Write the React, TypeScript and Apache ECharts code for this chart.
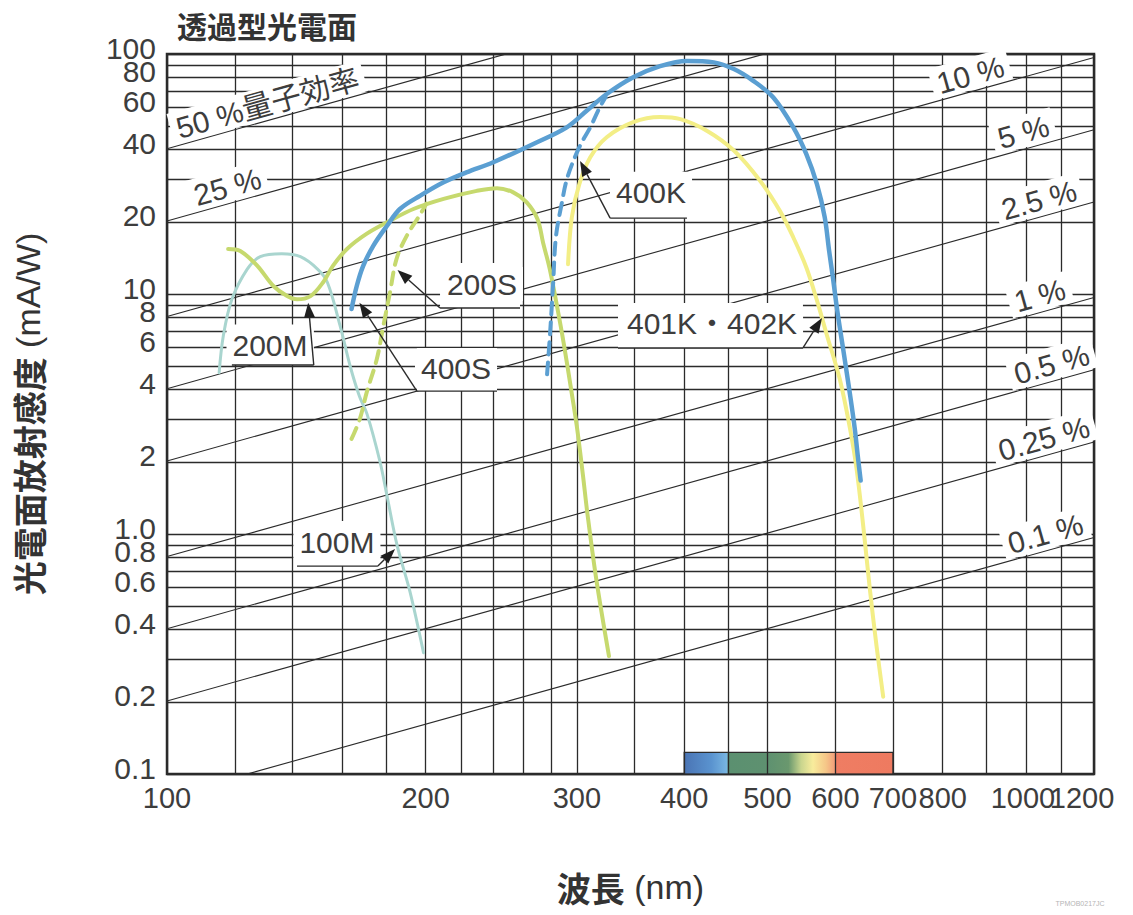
import { useEffect, useRef } from 'react';
import * as echarts from 'echarts';

// Wavelength axis (nm): labelled ticks and grid rulings
const xTickValues = [100, 200, 300, 400, 500, 600, 700, 800, 1000, 1200];
const xGridValues = [100, 120, 140, 160, 180, 200, 220, 240, 260, 280, 300, 350, 400, 450, 500, 600, 700, 800, 900, 1000, 1100, 1200];

// Sensitivity axis (mA/W): labelled ticks and grid rulings
const yTickValues = [0.1, 0.2, 0.4, 0.6, 0.8, 1, 2, 4, 6, 8, 10, 20, 40, 60, 80, 100];
const yTickLabels = ['0.1', '0.2', '0.4', '0.6', '0.8', '1.0', '2', '4', '6', '8', '10', '20', '40', '60', '80', '100'];
const yGridValues = [0.1, 0.2, 0.3, 0.4, 0.5, 0.6, 0.7, 0.8, 0.9, 1, 2, 3, 4, 5, 6, 7, 8, 9, 10, 20, 30, 40, 50, 60, 70, 80, 90, 100];

// Quantum-efficiency reference lines (%), S[mA/W] = QE[%] * λ[nm] / 124
const qeLevels = [50, 25, 10, 5, 2.5, 1, 0.5, 0.25, 0.1];
const qeLabels = ['50 %量子効率', '25 %', '10 %', '5 %', '2.5 %', '1 %', '0.5 %', '0.25 %', '0.1 %'];
const qeLabelWavelength = [132.5, 119, 872, 1005, 1048, 1050, 1084, 1062, 1066];

// Photocathode radiant sensitivity curves [wavelength nm, mA/W]
const curve100M = [
  [115, 4.7], [116.3, 6.7], [119, 9.5], [124, 12.7], [128.4, 14.3], [136, 14.7], [143, 14.3],
  [149.7, 12.7], [153.7, 11.2], [159, 7.4], [163.4, 5.0], [167.5, 3.75], [171, 3.15], [177, 2.0],
  [180.3, 1.45], [185.4, 0.89], [191.8, 0.575], [198.9, 0.32],
];
const curve200M = [
  [117.8, 15.4], [121.7, 15.1], [127.4, 13.1], [133, 10.8], [138, 9.8], [141.7, 9.5], [146.9, 9.8],
  [152, 11.2], [156, 13.1], [162, 15.4], [170.7, 17.8], [181.8, 20.2], [193.6, 22.6], [209.9, 24.9],
  [229.4, 26.9], [242.2, 27.6], [253, 26.5], [262.3, 24.1], [270, 20.5], [274, 16.4], [279, 12.7],
  [284.4, 8.94], [289.5, 6.29], [295, 4.14], [299.9, 2.83], [305, 1.75], [308.5, 1.23], [316, 0.65],
  [327, 0.31],
];
const curve200S = [
  [164, 2.49], [167.7, 3.02], [170.8, 3.89], [175.5, 5.36], [178.6, 7.38], [181.8, 10.16],
  [185, 13.98], [190.2, 17.5], [197.2, 21.5], [200.5, 23.8],
];
const curve400S = [
  [164, 8.66], [166.3, 10.8], [169.2, 13.1], [173.9, 15.9], [180.3, 19.2], [186.7, 22.6], [197.2, 25.7],
  [209.9, 29.2], [223.1, 32.1], [239.8, 35.4], [267, 42.2], [292, 49.5], [308, 58], [325, 68.1],
  [349, 80], [375, 89], [403, 93.6], [433, 92.3], [457, 86.6], [481, 77.5], [508, 65.9], [536, 49.5],
  [555, 38.3], [571, 28.7], [583, 20.9], [590, 15.1], [596, 11.7], [603, 8.52], [613, 5.8], [624, 3.8],
  [632, 2.74], [637, 2.12], [642, 1.67],
];
const curve400K = [
  [277, 4.63], [279.2, 6.81], [281.5, 11.0], [283.6, 17.2], [288, 23.7], [292.6, 30.7], [302, 40.9],
  [311, 49.5], [319, 59.9], [324, 66],
];
const curve401K = [
  [293, 13.3], [296, 20.9], [302, 28.7], [311, 37.1], [325, 45], [349, 52], [375, 54.6], [396, 53.5],
  [425, 47.9], [457, 39.6], [490, 29.7], [517, 22.2], [536, 17.2], [555, 12.9], [571, 9.4], [586, 6.8],
  [607, 4.42], [624, 2.74], [635, 1.87], [647, 1.05], [658, 0.59], [670, 0.34], [682, 0.21],
];

// Visible-spectrum strip along the bottom (nm, mA/W)
const spectrumBand = [[400, 0.1], [700, 0.123]];

// Curve call-outs: label anchor, underline (x range at one y), arrow tip — all in data units
const callouts = [
  { text: '200M', at: [131.8, 6.1], lineX: [119, 148.2], lineY: 5.06, from: 1, tip: [146, 9.2] },
  { text: '200S', at: [232.6, 11.0], lineX: [207.9, 257.6], lineY: 8.74, from: 0, tip: [185.5, 12.6] },
  { text: '400S', at: [217, 4.87], lineX: [195.4, 242.2], lineY: 3.94, from: 0, tip: [167.5, 9.2] },
  { text: '400K', at: [366, 26.4], lineX: [328, 403], lineY: 20.7, from: 0, tip: [302.6, 35.8] },
  { text: '401K・402K', at: [431, 7.5], lineX: [335, 550], lineY: 5.96, from: 1, tip: [578.8, 7.94] },
  { text: '100M', at: [157.7, 0.926], lineX: [141.7, 176], lineY: 0.735, from: 1, tip: [184.3, 0.866] },
];

const INK = '#2b2b2b';
const TEXT = '#3d3d3d';
const LATIN = '"Liberation Sans", Arial, "Noto Sans CJK JP", sans-serif';
const CJK = '"Noto Sans CJK JP", "Liberation Sans", sans-serif';

function curveSeries(name: string, data: number[][], color: string, width: number, z: number, dashed = false) {
  return {
    name,
    type: 'line',
    data,
    z,
    xAxisIndex: 0,
    yAxisIndex: 0,
    smooth: 0.35,
    symbol: 'none',
    silent: true,
    clip: true,
    lineStyle: { color, width, type: dashed ? [12, 8] : 'solid', cap: 'round', join: 'round' },
  };
}

function yLabelText(v: number) {
  let best = 0;
  yTickValues.forEach((t, i) => {
    if (Math.abs(Math.log10(t) - Math.log10(v)) < Math.abs(Math.log10(yTickValues[best]) - Math.log10(v))) best = i;
  });
  return yTickLabels[best];
}

// The two right-most wavelength labels are pulled slightly left (via right padding)
function xLabelText(v: number) {
  const n = Math.round(v);
  if (n === 1200) return '{far|1200}';
  if (n === 1000) return '{near|1000}';
  return String(n);
}

// Tightly packed tick labels are split over two coincident axes (alternate ticks),
// so that no label is dropped by the end-label overlap handling.
function makeXAxis(values: number[], withName: boolean) {
  return {
    type: 'log',
    logBase: 10,
    min: 100,
    max: 1200,
    gridIndex: 0,
    position: 'bottom',
    offset: 0,
    axisLine: { show: false },
    axisTick: { show: false },
    splitLine: { show: false },
    minorTick: { show: false },
    minorSplitLine: { show: false },
    axisLabel: {
      customValues: values,
      formatter: xLabelText,
      fontSize: 29,
      fontFamily: LATIN,
      color: TEXT,
      margin: 9,
      hideOverlap: false,
      showMinLabel: true,
      showMaxLabel: true,
      rich: {
        far: { fontSize: 29, fontFamily: LATIN, color: TEXT, padding: [0, 24, 0, 0] },
        near: { fontSize: 29, fontFamily: LATIN, color: TEXT, padding: [0, 6, 0, 0] },
      },
    },
    name: withName ? '{b|波長} (nm)' : '',
    nameLocation: 'middle',
    nameGap: 96,
    nameTextStyle: {
      fontSize: 34,
      fontFamily: LATIN,
      color: '#333333',
      rich: { b: { fontSize: 34, fontWeight: 'bold', fontFamily: CJK, color: '#333333' } },
    },
  };
}

function makeYAxis(values: number[], withName: boolean) {
  return {
    type: 'log',
    logBase: 10,
    min: 0.1,
    max: 100,
    gridIndex: 0,
    position: 'left',
    offset: 0,
    axisLine: { show: false },
    axisTick: { show: false },
    splitLine: { show: false },
    minorTick: { show: false },
    minorSplitLine: { show: false },
    axisLabel: {
      customValues: values,
      formatter: yLabelText,
      fontSize: 30,
      lineHeight: 12,
      verticalAlign: 'bottom',
      fontFamily: LATIN,
      color: TEXT,
      margin: 11,
      hideOverlap: false,
      showMinLabel: true,
      showMaxLabel: true,
    },
    name: withName ? '{b|光電面放射感度} (mA/W)' : '',
    nameLocation: 'middle',
    nameRotate: 90,
    nameGap: 122,
    nameTextStyle: {
      fontSize: 34,
      fontFamily: LATIN,
      color: '#333333',
      rich: { b: { fontSize: 34, fontWeight: 'bold', fontFamily: CJK, color: '#333333' } },
    },
  };
}

function buildGraphics(chart: echarts.ECharts) {
  const toPx = (p: number[]) => chart.convertToPixel({ xAxisIndex: 0, yAxisIndex: 0 }, p) as number[];
  const els: any[] = [];

  // Quantum-efficiency labels sitting on their diagonal lines
  qeLevels.forEach((q, i) => {
    const lam = qeLabelWavelength[i];
    const a = toPx([lam, (q * lam) / 124]);
    const b = toPx([lam * 1.3, (q * lam * 1.3) / 124]);
    const ang = Math.atan2(a[1] - b[1], b[0] - a[0]);
    const k = 1.5;
    els.push({
      type: 'text',
      z: 40,
      x: a[0] - k * Math.sin(ang),
      y: a[1] - k * Math.cos(ang),
      rotation: ang,
      style: {
        text: qeLabels[i],
        align: 'center',
        verticalAlign: 'bottom',
        fontSize: 30,
        fontFamily: LATIN,
        fill: TEXT,
        backgroundColor: '#ffffff',
        padding: [2, 6, 0, 6],
      },
    });
  });

  // Curve call-outs with underline and arrow
  callouts.forEach((c) => {
    const t = toPx(c.at);
    const u1 = toPx([c.lineX[0], c.lineY]);
    const u2 = toPx([c.lineX[1], c.lineY]);
    const s = c.from === 0 ? u1 : u2;
    const tip = toPx(c.tip);
    const top = t[1] - 21;
    els.push({
      type: 'rect',
      z: 41,
      shape: { x: u1[0], y: top, width: u2[0] - u1[0], height: u1[1] - top },
      style: { fill: '#ffffff' },
    });
    els.push({
      type: 'text',
      z: 42,
      x: t[0],
      y: t[1],
      style: {
        text: c.text,
        align: 'center',
        verticalAlign: 'middle',
        fontSize: 30,
        fontFamily: LATIN,
        fill: TEXT,
        backgroundColor: '#ffffff',
        padding: [2, 6, 2, 6],
      },
    });
    els.push({
      type: 'line',
      z: 43,
      shape: { x1: u1[0], y1: u1[1], x2: u2[0], y2: u2[1] },
      style: { stroke: INK, lineWidth: 1.4 },
    });
    const dx = tip[0] - s[0];
    const dy = tip[1] - s[1];
    const len = Math.hypot(dx, dy) || 1;
    const ux = dx / len;
    const uy = dy / len;
    const hl = 15;
    const hw = 5.5;
    const bx = tip[0] - ux * hl;
    const by = tip[1] - uy * hl;
    els.push({
      type: 'line',
      z: 43,
      shape: { x1: s[0], y1: s[1], x2: bx, y2: by },
      style: { stroke: INK, lineWidth: 1.4 },
    });
    els.push({
      type: 'polygon',
      z: 44,
      shape: {
        points: [
          [tip[0], tip[1]],
          [bx - uy * hw, by + ux * hw],
          [bx + uy * hw, by - ux * hw],
        ],
      },
      style: { fill: '#1f1f1f' },
    });
  });

  // Drawing reference code, bottom right
  els.push({
    type: 'text',
    z: 40,
    x: 1080,
    y: 903,
    style: { text: 'TPMOB0217JC', align: 'center', verticalAlign: 'middle', fontSize: 7, fontFamily: LATIN, fill: '#b5b5b5' },
  });

  return els;
}

export default function App() {
  const ref = useRef<HTMLDivElement>(null);

  useEffect(() => {
    if (!ref.current) return;
    const chart = echarts.init(ref.current, undefined, { renderer: 'svg' });

    const spectrum = new echarts.graphic.LinearGradient(0, 0, 1, 0, [
      { offset: 0, color: '#4a74b4' },
      { offset: 0.13, color: '#5a93cf' },
      { offset: 0.205, color: '#78b5e2' },
      { offset: 0.211, color: '#5b9070' },
      { offset: 0.4, color: '#5e9170' },
      { offset: 0.5, color: '#6a986e' },
      { offset: 0.56, color: '#c9d58e' },
      { offset: 0.617, color: '#f8ec9c' },
      { offset: 0.68, color: '#f5c688' },
      { offset: 0.72, color: '#f2a07a' },
      { offset: 0.725, color: '#ef7d63' },
      { offset: 1, color: '#ee7a60' },
    ]);

    const xEven = xTickValues.filter((_, i) => i % 2 === 0);
    const xOdd = xTickValues.filter((_, i) => i % 2 === 1);
    const yEven = yTickValues.filter((_, i) => i % 2 === 0);
    const yOdd = yTickValues.filter((_, i) => i % 2 === 1);

    const option: any = {
      animation: false,
      backgroundColor: '#ffffff',
      textStyle: { fontFamily: LATIN },
      title: {
        text: '透過型光電面',
        left: 172,
        top: 5,
        textStyle: { fontSize: 30, fontWeight: 'bold', fontFamily: CJK, color: '#333333' },
      },
      grid: {
        left: 167,
        top: 54,
        width: 927,
        height: 720,
        show: true,
        borderColor: INK,
        borderWidth: 2.5,
        backgroundColor: 'transparent',
        outerBoundsMode: 'none',
        containLabel: false,
      },
      xAxis: [makeXAxis(xEven, true), makeXAxis(xOdd, false)],
      yAxis: [makeYAxis(yEven, true), makeYAxis(yOdd, false)],
      series: [
        {
          name: 'spectrum',
          type: 'line',
          data: [],
          z: 1,
          xAxisIndex: 0,
          yAxisIndex: 0,
          silent: true,
          markArea: {
            silent: true,
            itemStyle: { color: spectrum, opacity: 1, borderColor: INK, borderWidth: 1.2 },
            label: { show: false },
            emphasis: { disabled: true },
            data: [[{ xAxis: spectrumBand[0][0], yAxis: spectrumBand[0][1] }, { xAxis: spectrumBand[1][0], yAxis: spectrumBand[1][1] }]],
          },
        },
        {
          name: 'grid',
          type: 'line',
          data: [],
          z: 2,
          xAxisIndex: 0,
          yAxisIndex: 0,
          silent: true,
          markLine: {
            silent: true,
            symbol: ['none', 'none'],
            label: { show: false },
            emphasis: { disabled: true },
            lineStyle: { color: INK, width: 1.3, type: 'solid', opacity: 1 },
            data: [
              ...xGridValues.map((v) => ({ xAxis: v })),
              ...yGridValues.map((v) => ({ yAxis: v })),
            ],
          },
        },
        ...qeLevels.map((q) => ({
          name: `QE ${q}%`,
          type: 'line',
          data: [
            [100, (q * 100) / 124],
            [1200, (q * 1200) / 124],
          ],
          z: 3,
          xAxisIndex: 0,
          yAxisIndex: 0,
          symbol: 'none',
          silent: true,
          clip: true,
          lineStyle: { color: INK, width: 1.1 },
        })),
        curveSeries('100M', curve100M, '#a9d5cf', 3, 5),
        curveSeries('401K・402K', curve401K, '#f3ee86', 4, 6),
        curveSeries('200S', curve200S, '#c6d96e', 4, 7, true),
        curveSeries('200M', curve200M, '#c6d96e', 4, 8),
        curveSeries('400K', curve400K, '#5b9fd2', 4, 9, true),
        curveSeries('400S', curve400S, '#5b9fd2', 4.5, 10),
      ],
    };

    chart.setOption(option);
    chart.setOption({ graphic: { elements: buildGraphics(chart) } });

    return () => chart.dispose();
  }, []);

  return (
    <div
      ref={ref}
      style={{ position: 'absolute', left: 0, top: 0, width: 1133, height: 915, background: '#ffffff' }}
    />
  );
}
